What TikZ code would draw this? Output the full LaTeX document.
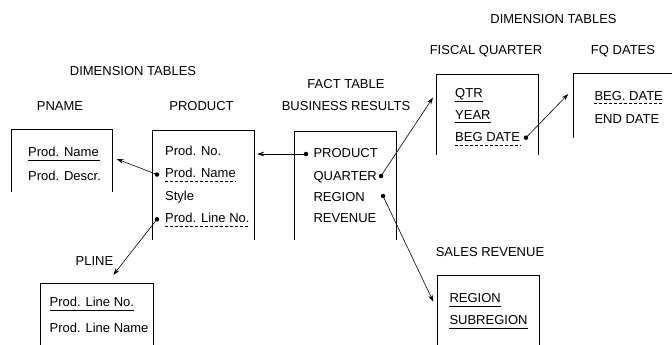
\documentclass[tikz,border=0pt]{standalone}
\usepackage{fontspec}
\setmainfont{Liberation Sans}
\usetikzlibrary{arrows.meta, calc}

\tikzset{
  lbl/.style={font=\fontsize{13}{15}\selectfont, inner sep=0pt, anchor=base west},
  ttl/.style={font=\fontsize{13}{15}\selectfont, inner sep=0pt, anchor=base},
  tbl/.style={line width=0.8pt},
  pkey/.style={line width=0.8pt},
  fkey/.style={line width=0.8pt, dash pattern=on 3pt off 2pt},
  link/.style={line width=0.6pt, -{Stealth[length=7pt,width=4.5pt]}},
  dot/.style={circle, fill, inner sep=0pt, minimum size=4.5pt},
}

\begin{document}
\begin{tikzpicture}[x=1pt, y=-1pt]
\useasboundingbox (0,0) rectangle (672,345);

% Headings
\node[ttl] (dimLeft) at (133,75) {DIMENSION TABLES};
\node[ttl] (hPname) at (60,110.7) {PNAME};
\node[ttl] (hProduct) at (201.5,110.7) {PRODUCT};
\node[ttl] (hFact) at (346,88.3) {FACT TABLE};
\node[ttl] (hBusiness) at (346,110.7) {BUSINESS RESULTS};
\node[ttl] (dimRight) at (553.5,23.3) {DIMENSION TABLES};
\node[ttl] (hFiscal) at (486,55) {FISCAL QUARTER};
\node[ttl] (hFqDates) at (623,55) {FQ DATES};
\node[ttl] (hPline) at (94.5,265) {PLINE};
\node[ttl] (hSales) at (490,256.7) {SALES REVENUE};

% Tables (open at the bottom)
\draw[tbl] (11,192) -- (11,129) -- (112,129) -- (112,192);
\draw[tbl] (152,240) -- (152,130) -- (254,130) -- (254,240);
\draw[tbl] (40,345) -- (40,283) -- (153,283) -- (153,345);
\draw[tbl] (294,240) -- (294,131) -- (396,131) -- (396,240);
\draw[tbl] (436,155) -- (436,74) -- (538,74) -- (538,155);
\draw[tbl] (573,138) -- (573,73) -- (672,73);
\draw[tbl] (437,345) -- (437,275) -- (539,275) -- (539,345);

% PNAME
\node[lbl] (pnName) at (28,156.7) {Prod. Name};
\node[lbl] (pnDescr) at (28,180) {Prod. Descr.};
\draw[pkey] ($(pnName.base west)+(0,3.5)$) -- ($(pnName.base east)+(1,3.5)$);

% PRODUCT
\node[lbl] (prNo) at (165,155.7) {Prod. No.};
\node[lbl] (prName) at (165,177.5) {Prod. Name};
\node[lbl] (prStyle) at (165,200.5) {Style};
\node[lbl] (prLine) at (165,222.5) {Prod. Line No.};
\draw[fkey] ($(prName.base west)+(0,3.5)$) -- ($(prName.base east)+(0,3.5)$);
\draw[fkey] ($(prLine.base west)+(0,3.5)$) -- ($(prLine.base east)+(0,3.5)$);

% PLINE
\node[lbl] (plNo) at (49.5,306.7) {Prod. Line No.};
\node[lbl] (plName) at (49.5,332.7) {Prod. Line Name};
\draw[pkey] ($(plNo.base west)+(0,4)$) -- ($(plNo.base east)+(0,4)$);

% Fact table
\node[lbl] (fProduct) at (313.3,157) {PRODUCT};
\node[lbl] (fQuarter) at (313.3,180) {QUARTER};
\node[lbl] (fRegion) at (313.3,201.5) {REGION};
\node[lbl] (fRevenue) at (313.3,222.7) {REVENUE};

% FISCAL QUARTER
\node[lbl] (fqQtr) at (455,97.7) {QTR};
\node[lbl] (fqYear) at (455,119.3) {YEAR};
\node[lbl] (fqBeg) at (455,141) {BEG DATE};
\draw[pkey] ($(fqQtr.base west)+(0,3.5)$) -- ($(fqQtr.base east)+(0,3.5)$);
\draw[pkey] ($(fqYear.base west)+(0,3.5)$) -- ($(fqYear.base east)+(0,3.5)$);
\draw[fkey] ($(fqBeg.base west)+(0,4)$) -- ($(fqBeg.base east)+(0,4)$);

% FQ DATES
\node[lbl] (fdBeg) at (594.3,100) {BEG. DATE};
\node[lbl] (fdEnd) at (594.3,123.3) {END DATE};
\draw[fkey] ($(fdBeg.base west)+(0,3.5)$) -- ($(fdBeg.base east)+(0,3.5)$);

% SALES REVENUE
\node[lbl] (srRegion) at (449.3,302.7) {REGION};
\node[lbl] (srSub) at (449.3,324.3) {SUBREGION};
\draw[pkey] ($(srRegion.base west)+(0,4)$) -- ($(srRegion.base east)+(0,4)$);
\draw[pkey] ($(srSub.base west)+(0,4)$) -- ($(srSub.base east)+(0,4)$);

% Dots
\node[dot] (dProduct) at (306,154) {};
\node[dot] (dQuarter) at (381,176) {};
\node[dot] (dRegion) at (383,196) {};
\node[dot] (dPrName) at (157,174.5) {};
\node[dot] (dPrLine) at (157,219.3) {};
\node[dot] (dFqBeg) at (526,137.7) {};

% Arrow tips
\coordinate (tProduct) at (257,154);
\coordinate (tPname) at (116.7,159);
\coordinate (tPline) at (113.3,275);
\coordinate (tFiscal) at (433,97.5);
\coordinate (tSales) at (433.3,301.7);
\coordinate (tFqDates) at (568.3,94);

% Links
\draw[link] (dProduct.center) -- (tProduct);
\draw[link] (dPrName.center) -- (tPname);
\draw[link] (dPrLine.center) -- (tPline);
\draw[link] (dQuarter.center) -- (tFiscal);
\draw[link] (dRegion.center) -- (tSales);
\draw[link] (dFqBeg.center) -- (tFqDates);
\end{tikzpicture}
\end{document}
